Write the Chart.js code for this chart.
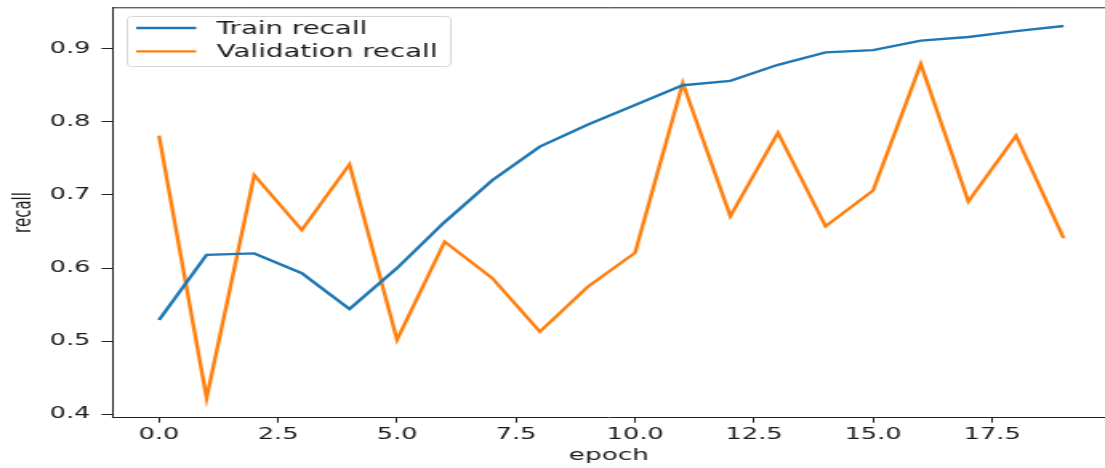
<!DOCTYPE html>
<html>
<head>
<meta charset="utf-8">
<script src="https://cdn.jsdelivr.net/npm/chart.js@4.4.0/dist/chart.umd.min.js"></script>
<style>
  html, body { margin: 0; padding: 0; background: #fff; }
  #chart { display: block; width: 1105px; height: 468px; }
</style>
</head>
<body>
<canvas id="chart" width="690" height="468" style="width:1105px;height:468px"></canvas>
<script>
// values
const epochs = [0, 1, 2, 3, 4, 5, 6, 7, 8, 9, 10, 11, 12, 13, 14, 15, 16, 17, 18, 19];
const trainRecall = [0.529, 0.618, 0.620, 0.593, 0.544, 0.600, 0.663, 0.720, 0.766, 0.796,
                     0.823, 0.850, 0.856, 0.878, 0.895, 0.898, 0.911, 0.916, 0.924, 0.931];
const valRecall = [0.781, 0.422, 0.727, 0.652, 0.742, 0.502, 0.636, 0.586, 0.513, 0.574,
                   0.621, 0.853, 0.671, 0.785, 0.657, 0.706, 0.879, 0.691, 0.781, 0.641];
const xTicks = [0, 2.5, 5, 7.5, 10, 12.5, 15, 17.5];
const yTicks = [0.4, 0.5, 0.6, 0.7, 0.8, 0.9];

const FONT = 'DejaVu Sans';
const TEXT = '#1a1a1a';

// matplotlib style legend box in the upper left + top spine
const mplFrame = {
  id: 'mplFrame',
  afterDatasetsDraw(chart) {
    const { ctx, chartArea } = chart;
    ctx.save();
    ctx.strokeStyle = '#222';
    ctx.lineWidth = 1;
    ctx.beginPath();
    ctx.moveTo(chartArea.left, chartArea.top + 0.5);
    ctx.lineTo(chartArea.right, chartArea.top + 0.5);
    ctx.stroke();

    const x0 = 79, y0 = 16, w = 202, h = 50;
    ctx.fillStyle = 'rgba(255,255,255,0.8)';
    ctx.strokeStyle = '#d6d6d6';
    ctx.beginPath();
    ctx.roundRect(x0 + 0.5, y0 + 0.5, w, h, 3);
    ctx.fill();
    ctx.stroke();

    ctx.font = '17.3px "' + FONT + '"';
    ctx.textBaseline = 'alphabetic';
    const rows = [28, 51.3];
    chart.data.datasets.forEach((ds, i) => {
      const y = rows[i];
      ctx.strokeStyle = ds.borderColor;
      ctx.lineWidth = 2.3;
      ctx.beginPath();
      ctx.moveTo(85, y);
      ctx.lineTo(122.5, y);
      ctx.stroke();
      ctx.fillStyle = TEXT;
      ctx.fillText(ds.label, 135.3, y + 6);
    });
    ctx.restore();
  }
};

new Chart(document.getElementById('chart'), {
  type: 'line',
  data: {
    labels: epochs,
    datasets: [
      {
        label: 'Train recall',
        data: epochs.map((e, i) => ({ x: e, y: trainRecall[i] })),
        borderColor: '#1f77b4',
        borderWidth: 2.4,
        pointRadius: 0,
        tension: 0
      },
      {
        label: 'Validation recall',
        data: epochs.map((e, i) => ({ x: e, y: valRecall[i] })),
        borderColor: '#ff7f0e',
        borderWidth: 2.4,
        pointRadius: 0,
        tension: 0
      }
    ]
  },
  options: {
    responsive: false,
    animation: false,
    devicePixelRatio: 1,
    layout: { padding: { top: 7.3, left: 0, right: 0, bottom: 0 } },
    plugins: {
      legend: { display: false },
      tooltip: { enabled: false }
    },
    scales: {
      x: {
        type: 'linear',
        min: -0.972,
        max: 19.87,
        afterBuildTicks: (s) => { s.ticks = xTicks.map(v => ({ value: v })); },
        afterFit: (s) => { s.height = 50.3; s.paddingLeft = 0; s.paddingRight = 0; },
        ticks: {
          color: TEXT,
          font: { family: FONT, size: 16 },
          padding: 3,
          maxRotation: 0,
          autoSkip: false,
          callback: (v) => v.toFixed(1)
        },
        grid: { drawOnChartArea: false, drawTicks: true, tickLength: 5, color: '#222' },
        border: { display: true, color: '#222', width: 1 },
        title: {
          display: true,
          text: 'epoch',
          color: TEXT,
          font: { family: FONT, size: 16.5 },
          padding: { top: 0, bottom: 2 }
        }
      },
      y: {
        min: 0.3953,
        max: 0.9566,
        afterBuildTicks: (s) => { s.ticks = yTicks.map(v => ({ value: v })); },
        afterFit: (s) => { s.width = 70.4; s.paddingTop = 0; s.paddingBottom = 0; },
        ticks: {
          color: TEXT,
          font: { family: FONT, size: 16 },
          padding: 7,
          callback: (v) => v.toFixed(1)
        },
        grid: { drawOnChartArea: false, drawTicks: true, tickLength: 7, color: '#222' },
        border: { display: true, color: '#222', width: 1 },
        title: {
          display: true,
          text: 'recall',
          color: TEXT,
          font: { family: FONT, size: 15 },
          padding: { top: 6, bottom: 0 }
        }
      }
    }
  },
  plugins: [mplFrame]
});
</script>
</body>
</html>
